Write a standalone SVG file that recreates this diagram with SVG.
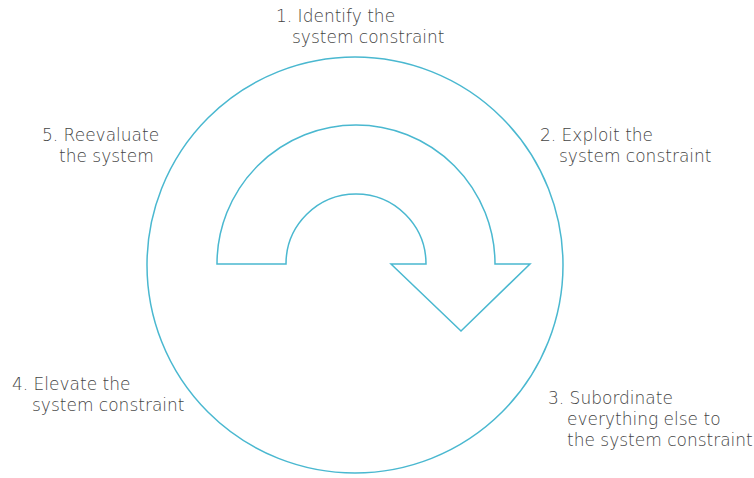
<svg xmlns="http://www.w3.org/2000/svg" width="754" height="478" viewBox="0 0 754 478">
<style>
.lbl{font-family:"DejaVu Sans","Liberation Sans",sans-serif;font-size:17px;font-weight:300;fill:#444}
.ln{fill:none;stroke:#4ab8d0;stroke-width:1.5}
</style>
<rect width="754" height="478" fill="#fff"/>
<g id="cycle">
<circle class="ln" cx="355" cy="265" r="208"/>
</g>
<g id="connectors">
<path class="ln" d="M217,264 A139,139 0 0 1 495,264 L530,264 L461,331 L391,264 L426,264 A70,70 0 0 0 286,264 Z"/>
</g>
<g id="step1"><text class="lbl" x="276" y="22">1. Identify the</text><text class="lbl" x="292" y="43">system constraint</text></g>
<g id="step2"><text class="lbl" x="540" y="141">2. Exploit the</text><text class="lbl" x="559" y="162">system constraint</text></g>
<g id="step3"><text class="lbl" x="548" y="404">3. Subordinate</text><text class="lbl" x="567" y="425">everything else to</text><text class="lbl" x="567" y="446">the system constraint</text></g>
<g id="step4"><text class="lbl" x="12" y="390">4. Elevate the</text><text class="lbl" x="32" y="411">system constraint</text></g>
<g id="step5"><text class="lbl" x="42" y="141">5. Reevaluate</text><text class="lbl" x="59" y="162">the system</text></g>
</svg>
